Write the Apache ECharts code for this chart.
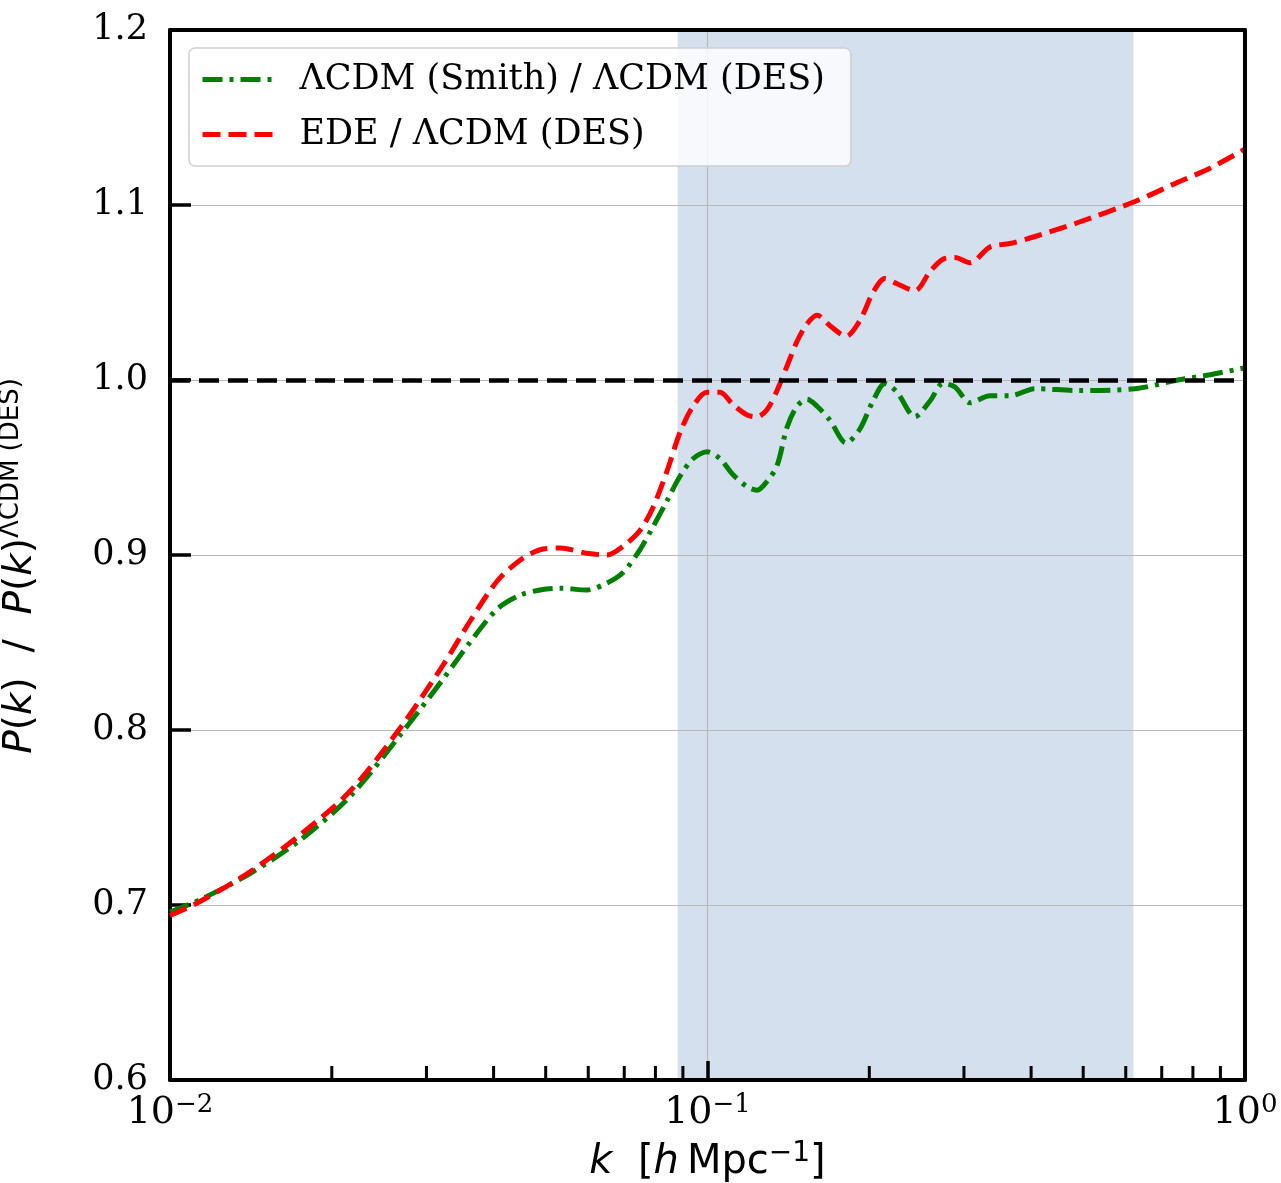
<!DOCTYPE html>
<html>
<head>
<meta charset="utf-8">
<script src="https://cdn.jsdelivr.net/npm/echarts@6/dist/echarts.min.js"></script>
<style>
html,body{margin:0;padding:0;background:#fff;}
#chart{width:1281px;height:1183px;}
</style>
</head>
<body>
<div id="chart"></div>
<script>
// k values [h/Mpc]
const kValues = [0.0100, 0.01137, 0.01409, 0.01745, 0.02162, 0.02679, 0.03220, 0.03613, 0.04059, 0.04479,
  0.04880, 0.05316, 0.05968, 0.06501, 0.06965, 0.07487, 0.07914, 0.08408, 0.08889, 0.09397,
  0.0998, 0.1055, 0.1115, 0.1185, 0.1236, 0.1290, 0.1347, 0.1406, 0.1467, 0.1531,
  0.1599, 0.1690, 0.1810, 0.1921, 0.2032, 0.2139, 0.2253, 0.2432, 0.2594, 0.2742,
  0.2887, 0.3079, 0.3354, 0.3654, 0.4068, 0.4890, 0.6241, 0.7502, 0.8607, 1.0];
// LCDM (Smith) / LCDM (DES)
const smithRatio = [0.696, 0.703, 0.718, 0.737, 0.762, 0.797, 0.829, 0.850, 0.869, 0.877,
  0.880, 0.881, 0.880, 0.884, 0.890, 0.903, 0.916, 0.931, 0.945, 0.955,
  0.959, 0.955, 0.946, 0.939, 0.937, 0.942, 0.951, 0.973, 0.985, 0.989,
  0.985, 0.977, 0.964, 0.972, 0.988, 0.998, 0.993, 0.979, 0.988, 0.998,
  0.996, 0.987, 0.991, 0.991, 0.995, 0.994, 0.995, 1.000, 1.003, 1.007];
// EDE / LCDM (DES)
const edeRatio = [0.694, 0.702, 0.719, 0.740, 0.765, 0.801, 0.837, 0.862, 0.885, 0.897,
  0.903, 0.904, 0.901, 0.900, 0.905, 0.914, 0.927, 0.948, 0.970, 0.985,
  0.993, 0.993, 0.986, 0.980, 0.979, 0.983, 0.994, 1.008, 1.022, 1.032,
  1.037, 1.031, 1.025, 1.034, 1.050, 1.058, 1.055, 1.051, 1.062, 1.069,
  1.070, 1.067, 1.076, 1.078, 1.082, 1.090, 1.102, 1.113, 1.121, 1.132];
const bandRange = [0.088, 0.62];
const referenceLevel = 1.0;
const minorTickK = [0.02,0.03,0.04,0.05,0.06,0.07,0.08,0.09,0.2,0.3,0.4,0.5,0.6,0.7,0.8,0.9];
const yTicks = {min: 0.6, max: 1.2, interval: 0.1};
const seriesNames = ['\u039BCDM (Smith) / \u039BCDM (DES)', 'EDE / \u039BCDM (DES)'];

const serif = "'DejaVu Serif', serif";
const sans = "'DejaVu Sans', sans-serif";

const chart = echarts.init(document.getElementById('chart'), null, {renderer: 'canvas'});
const frameAxis = {show: true, lineStyle: {color: '#000', width: 4}};
const option = {
  backgroundColor: '#fff',
  animation: false,
  grid: {left: 170, right: 36, top: 30, bottom: 103, containLabel: false, outerBoundsMode: 'none'},
  legend: {
    data: seriesNames,
    orient: 'vertical',
    left: 189, top: 48,
    itemWidth: 76, itemHeight: 14, itemGap: 20,
    padding: [14, 26, 14, 11],
    backgroundColor: 'rgba(255,255,255,0.8)',
    borderColor: '#d0d0d0', borderWidth: 1.5, borderRadius: 6,
    itemStyle: {opacity: 0},
    lineStyle: {width: 5},
    textStyle: {fontFamily: serif, fontSize: 35, color: '#000', padding: [0, 0, 0, 16]},
    selectedMode: false
  },
  xAxis: [{
    type: 'log', logBase: 10, min: 0.01, max: 1, z: 2,
    axisLine: frameAxis,
    axisTick: {show: true, inside: true, length: 19, lineStyle: {color: '#000', width: 3.5}},
    splitLine: {show: true, showMinLine: false, showMaxLine: false, lineStyle: {color: '#b8b8b8', width: 1.2}},
    axisLabel: {
      margin: 12,
      formatter: function (v) {
        const e = Math.round(Math.log10(v));
        return '{b|10}{s|' + (e < 0 ? '\u2212' : '') + Math.abs(e) + '}';
      },
      rich: {
        b: {fontFamily: serif, fontSize: 38, color: '#000'},
        s: {fontFamily: serif, fontSize: 26, color: '#000', verticalAlign: 'top', padding: [0, 0, 16, 0]}
      }
    },
    name: '{i|k}  [{i|h}\u2009Mpc{s|\u22121}]',
    nameLocation: 'middle', nameGap: 60,
    nameTextStyle: {
      rich: {
        i: {fontFamily: sans, fontStyle: 'italic', fontSize: 40, color: '#000'},
        s: {fontFamily: sans, fontSize: 28, color: '#000', verticalAlign: 'top', padding: [0, 0, 18, 0]}
      },
      fontFamily: sans, fontSize: 40, color: '#000'
    }
  }, {
    type: 'log', logBase: 10, min: 0.01, max: 1, position: 'top', z: 6,
    axisLine: frameAxis, axisTick: {show: false}, axisLabel: {show: false}, splitLine: {show: false}
  }],
  yAxis: [{
    type: 'value', min: yTicks.min, max: yTicks.max, interval: yTicks.interval, z: 2,
    axisLine: frameAxis,
    axisTick: {show: true, inside: true, length: 21, lineStyle: {color: '#000', width: 3.5}},
    splitLine: {show: true, showMinLine: false, showMaxLine: false, lineStyle: {color: '#b8b8b8', width: 1.2}},
    axisLabel: {margin: 22, fontFamily: serif, fontSize: 35, color: '#000', formatter: v => v.toFixed(1)},
    name: '{i|P}({i|k})  /  {i|P}({i|k}){s|\u039BCDM (DES)}',
    nameLocation: 'middle', nameGap: 126, nameRotate: 90,
    nameTextStyle: {
      fontFamily: sans, fontSize: 39, color: '#000',
      padding: [0, 22, 0, 0],
      rich: {
        i: {fontFamily: sans, fontStyle: 'italic', fontSize: 39, color: '#000'},
        s: {fontFamily: sans, fontSize: 26, color: '#000', verticalAlign: 'top', padding: [0, 0, 20, 0]}
      }
    }
  }, {
    type: 'value', min: yTicks.min, max: yTicks.max, interval: yTicks.interval, position: 'right', z: 6,
    axisLine: frameAxis, axisTick: {show: false}, axisLabel: {show: false}, splitLine: {show: false}
  }],
  series: [
    {
      name: 'band', type: 'line', data: [], z: 1, silent: true,
      markArea: {
        silent: true,
        itemStyle: {color: 'rgb(212,224,237)'},
        data: [[{xAxis: bandRange[0]}, {xAxis: bandRange[1]}]]
      }
    },
    {
      name: 'reference', type: 'line', data: [], z: 2.5, silent: true,
      markLine: {
        silent: true, symbol: ['none', 'none'], label: {show: false},
        lineStyle: {color: '#000', width: 4.5, type: [20, 9]},
        data: [{yAxis: referenceLevel}]
      }
    },
    {
      name: seriesNames[0], type: 'line', z: 3,
      data: kValues.map((k, i) => [k, smithRatio[i]]),
      smooth: 0.3, showSymbol: false, symbol: 'none',
      lineStyle: {color: '#008000', width: 5, type: [20, 7, 4, 7]},
      itemStyle: {color: '#008000'}
    },
    {
      name: seriesNames[1], type: 'line', z: 4,
      data: kValues.map((k, i) => [k, edeRatio[i]]),
      smooth: 0.3, showSymbol: false, symbol: 'none',
      lineStyle: {color: '#ff0000', width: 5, type: [18, 8]},
      itemStyle: {color: '#ff0000'}
    },
    {
      name: 'minorTicks', type: 'scatter', z: 7, silent: true, clip: false,
      data: minorTickK.map(k => [k, yTicks.min]),
      symbol: 'rect', symbolSize: [3, 14], symbolOffset: [0, -7],
      itemStyle: {color: '#000', opacity: 1}
    }
  ]
};
chart.setOption(option);
</script>
</body>
</html>
